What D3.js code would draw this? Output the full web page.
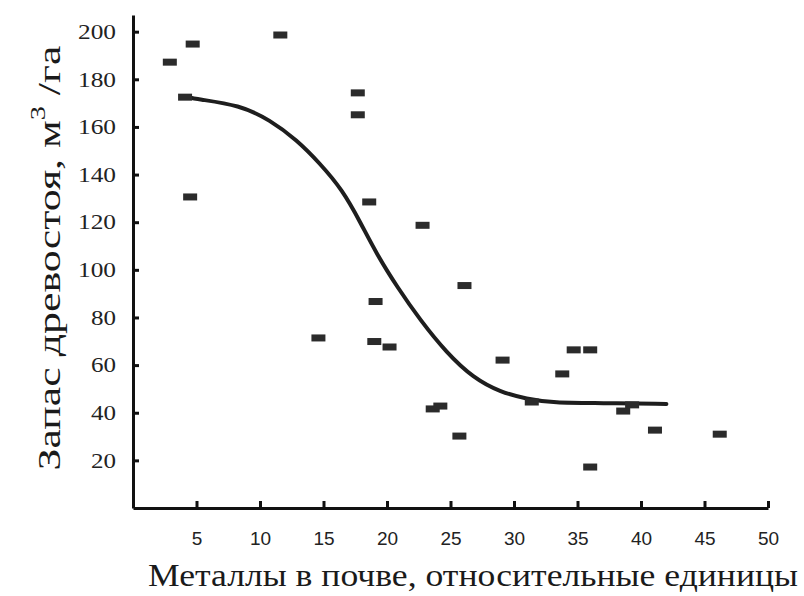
<!DOCTYPE html>
<html>
<head>
<meta charset="utf-8">
<script src="https://cdn.jsdelivr.net/npm/d3@7"></script>
<style>
  body { margin: 0; background: #fff; }
  svg { display: block; }
</style>
</head>
<body>
<svg class="chart" width="804" height="596"></svg>
<script>
// Observed points: metal content (x) vs stand stock (y)
const metalX = [2.9, 4.7, 4.1, 4.5, 11.6, 14.6, 17.7, 17.7, 18.6, 19.1, 19.0, 20.2, 22.8, 26.1,
                23.6, 24.2, 25.7, 29.1, 31.4, 33.8, 34.7, 36.0, 36.0, 38.6, 39.3, 41.1, 46.2];
const stockY = [187.2, 194.8, 172.5, 130.6, 198.6, 71.4, 174.3, 165.1, 128.5, 86.7, 69.9, 67.6, 118.7, 93.4,
                41.6, 42.8, 30.2, 62.1, 44.5, 56.3, 66.4, 66.4, 17.2, 40.7, 43.3, 32.7, 31.0];

// Fitted curve
const fitX = [4.2, 5.0, 8.4, 10.8, 12.9, 14.7, 16.5, 17.9, 19.2, 20.8, 22.6, 24.7, 26.8, 28.9, 31.0, 33.1, 36.8, 42.0];
const fitY = [172.6, 171.7, 169.2, 162.9, 154.5, 144.8, 133.5, 120.0, 106.5, 92.8, 79.0, 65.1, 54.6, 48.7, 45.8, 44.1, 44.1, 43.7];

const xTicks = [5, 10, 15, 20, 25, 30, 35, 40, 45, 50];
const yTicks = [20, 40, 60, 80, 100, 120, 140, 160, 180, 200];

const xTitle = 'Металлы в почве, относительные единицы';
const yTitle = 'Запас древостоя, м';

let svg = d3.select('.chart');

const xScale = d3.scaleLinear().domain([0, 50]).range([133, 768]);
const yScale = d3.scaleLinear().domain([0, 207]).range([508, 15]);

/* Axes */
// x-axis, ticks pointing up into the plot
let xAxis = svg.append('g')
    .attr('transform', `translate(0,${yScale(0)})`)
    .call(d3.axisBottom(xScale)
        .tickValues(xTicks)
        .tickSizeInner(-7)
        .tickSizeOuter(0)
        .tickPadding(24));
xAxis.select('.domain').attr('stroke', '#111').attr('stroke-width', 3);
xAxis.selectAll('.tick line').attr('stroke', '#111').attr('stroke-width', 3);
xAxis.selectAll('.tick text')
    .attr('font-family', '"Liberation Sans Narrow", "Liberation Sans", sans-serif')
    .attr('font-size', 19)
    .attr('fill', '#222');

// y-axis, ticks pointing right into the plot
let yAxis = svg.append('g')
    .attr('transform', `translate(${xScale(0)},0)`)
    .call(d3.axisLeft(yScale)
        .tickValues(yTicks)
        .tickSizeInner(-6)
        .tickSizeOuter(0)
        .tickPadding(17));
yAxis.select('.domain').attr('stroke', '#111').attr('stroke-width', 3);
yAxis.selectAll('.tick line').attr('stroke', '#111').attr('stroke-width', 3);
yAxis.selectAll('.tick text')
    .attr('font-family', '"Liberation Serif", "Times New Roman", serif')
    .attr('font-size', 21)
    .attr('fill', '#222')
    .attr('textLength', (d) => {return d >= 100 ? 38 : 25;})
    .attr('lengthAdjust', 'spacingAndGlyphs');

/* Fitted curve */
const fitPoints = fitX.map((x, i) => {return {x: x, y: fitY[i]};});
svg.append('path')
    .datum(fitPoints)
    .attr('fill', 'none')
    .attr('stroke', '#1e1e1e')
    .attr('stroke-width', 4)
    .attr('stroke-linecap', 'round')
    .attr('d', d3.line()
        .x((d) => {return xScale(d.x);})
        .y((d) => {return yScale(d.y);})
        .curve(d3.curveBasis));

/* Points: small dark dashes */
const points = metalX.map((x, i) => {return {x: x, y: stockY[i]};});
svg.append('g')
    .selectAll('rect')
    .data(points)
    .enter()
    .append('rect')
    .attr('x', (d) => {return xScale(d.x) - 7;})
    .attr('y', (d) => {return yScale(d.y) - 3.5;})
    .attr('width', 14)
    .attr('height', 7)
    .attr('fill', '#2b2b2b');

/* Titles */
svg.append('text')
    .attr('x', 148)
    .attr('y', 586)
    .attr('font-family', '"Liberation Serif", "Times New Roman", serif')
    .attr('font-size', 31)
    .attr('fill', '#1a1a1a')
    .attr('textLength', 650)
    .attr('lengthAdjust', 'spacingAndGlyphs')
    .text(xTitle);

let yLabel = svg.append('text')
    .attr('transform', 'translate(60,258) rotate(-90)')
    .attr('text-anchor', 'middle')
    .attr('font-family', '"Liberation Serif", "Times New Roman", serif')
    .attr('font-size', 31)
    .attr('fill', '#1a1a1a')
    .attr('textLength', 425)
    .attr('lengthAdjust', 'spacingAndGlyphs');
yLabel.append('tspan').text(yTitle);
yLabel.append('tspan').attr('dy', -15).attr('font-size', 20).text('3');
yLabel.append('tspan').attr('dy', 15).text(' /га');
</script>
</body>
</html>
